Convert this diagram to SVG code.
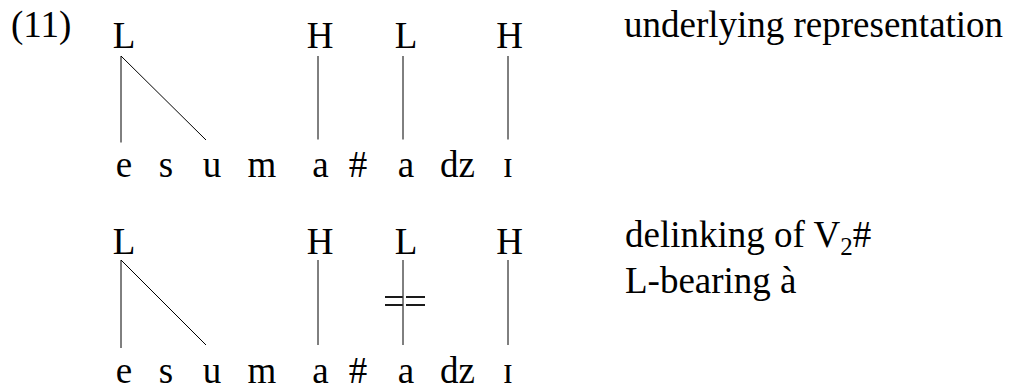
<svg xmlns="http://www.w3.org/2000/svg" width="1010" height="388" viewBox="0 0 1010 388">
<style>
text{font-family:"Liberation Serif","DejaVu Serif",serif;font-size:37px;fill:#000}
.c{text-anchor:middle}
.ln{stroke:#000;stroke-width:1;fill:none}
.dl{stroke:#000;stroke-width:1.8;fill:none}
</style>
<rect width="1010" height="388" fill="#fff"/>
<text id="exnum" x="11" y="37">(11)</text>
<g id="row1">
  <g id="r1-tones">
    <text class="c" x="124" y="48">L</text>
    <text class="c" x="320" y="48">H</text>
    <text class="c" x="406" y="48">L</text>
    <text class="c" x="509.5" y="48">H</text>
  </g>
  <g id="r1-segments">
    <text class="c" x="124" y="177">e</text>
    <text class="c" x="166" y="177">s</text>
    <text class="c" x="212" y="177">u</text>
    <text class="c" x="262" y="177">m</text>
    <text class="c" x="320.5" y="177">a</text>
    <text class="c" x="358" y="177">#</text>
    <text class="c" x="406" y="177">a</text>
    <text class="c" x="457.5" y="177">dz</text>
    <text class="c" x="508" y="177">ɪ</text>
  </g>
  <g id="r1-connectors">
    <line class="ln" x1="121" y1="56" x2="121" y2="142.5"/>
    <line class="ln" x1="121" y1="56" x2="206" y2="140"/>
    <line class="ln" x1="318" y1="56" x2="318" y2="139.5"/>
    <line class="ln" x1="403" y1="56" x2="403" y2="139.5"/>
    <line class="ln" x1="508" y1="56" x2="508" y2="139.5"/>
  </g>
  <text id="r1-label" x="624" y="37">underlying representation</text>
</g>
<g id="row2">
  <g id="r2-tones">
    <text class="c" x="124" y="254">L</text>
    <text class="c" x="320" y="254">H</text>
    <text class="c" x="406" y="254">L</text>
    <text class="c" x="509.5" y="254">H</text>
  </g>
  <g id="r2-segments">
    <text class="c" x="124" y="383">e</text>
    <text class="c" x="166" y="383">s</text>
    <text class="c" x="212" y="383">u</text>
    <text class="c" x="262" y="383">m</text>
    <text class="c" x="320.5" y="383">a</text>
    <text class="c" x="358" y="383">#</text>
    <text class="c" x="406" y="383">a</text>
    <text class="c" x="457.5" y="383">dz</text>
    <text class="c" x="508" y="383">ɪ</text>
  </g>
  <g id="r2-connectors">
    <line class="ln" x1="121" y1="260" x2="121" y2="348"/>
    <line class="ln" x1="121" y1="260" x2="206" y2="345"/>
    <line class="ln" x1="318" y1="260" x2="318" y2="345"/>
    <line class="ln" x1="403" y1="260" x2="403" y2="345"/>
    <line class="ln" x1="508" y1="260" x2="508" y2="345"/>
    <g id="delink">
      <line class="dl" x1="385" y1="297" x2="402.7" y2="297"/>
      <line class="dl" x1="406" y1="297" x2="425" y2="297"/>
      <line class="dl" x1="385" y1="305" x2="402.7" y2="305"/>
      <line class="dl" x1="406" y1="305" x2="425" y2="305"/>
    </g>
  </g>
  <text id="r2-label1" x="625" y="247">delinking of V<tspan font-size="25" dy="8">2</tspan><tspan dy="-8">#</tspan></text>
  <text id="r2-label2" x="625" y="293">L-bearing à</text>
</g>
</svg>
